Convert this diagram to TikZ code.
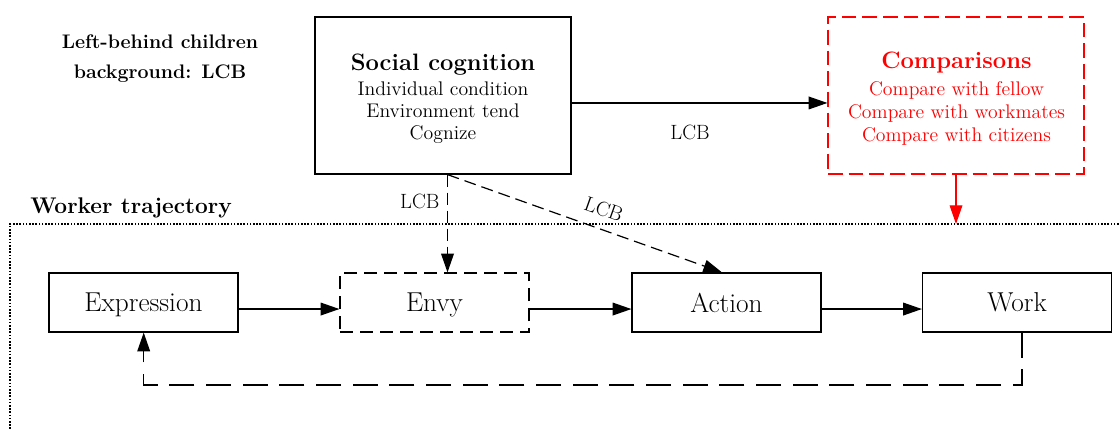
\documentclass[tikz,border=0pt]{standalone}
\usepackage{fontspec}
\usetikzlibrary{arrows.meta,calc}
\definecolor{cred}{RGB}{255,0,0}
\begin{document}
\begin{tikzpicture}[x=0.75pt,y=-0.75pt,
  box/.style={draw, line width=0.9pt, minimum width=141.75pt, minimum height=44.25pt,
    inner sep=0pt, text depth=0pt, font=\fontsize{20.5}{22}\selectfont},
  dbox/.style={box, dash pattern=on 10pt off 5pt},
  bigbox/.style={draw, line width=0.9pt, minimum width=192pt, minimum height=117.75pt, inner sep=0pt},
  redbox/.style={bigbox, draw=cred, dash pattern=on 11pt off 4.5pt},
  ttl/.style={anchor=base, inner sep=0pt, font=\fontsize{17.8}{20}\selectfont\bfseries},
  sub/.style={anchor=base, inner sep=0pt, font=\fontsize{14.8}{16}\selectfont},
  lcb/.style={inner sep=2pt, font=\fontsize{15.5}{16}\selectfont},
  hdr/.style={inner sep=0pt, font=\fontsize{14.7}{16}\selectfont\bfseries},
  tip/.style={-{Triangle[length=14pt,width=9.5pt]}},
  arr/.style={line width=0.9pt, tip},
  darr/.style={arr, dash pattern=on 9pt off 4.5pt},
  fb/.style={arr, dash pattern=on 18.75pt off 8.75pt},
  rarr/.style={line width=0.9pt, draw=cred, -{Triangle[length=14pt,width=9.5pt,fill=cred]}},
  frame/.style={line width=0.9pt, dash pattern=on 1.2pt off 1.2pt}
]
\useasboundingbox (0,0) rectangle (1119,429);

% header text
\node[hdr, anchor=base] (lcb1) at (160,48.3) {Left-behind children};
\node[hdr, anchor=base] (lcb2) at (160,78.3) {background: LCB};

% social cognition
\node[bigbox] (social) at (443,95.5) {};
\node[ttl] (socT) at (443,70) {Social cognition};
\node[sub] (soc1) at (443,95) {Individual condition};
\node[sub] (soc2) at (443,117.3) {Environment tend};
\node[sub] (soc3) at (443,139.5) {Cognize};

% comparisons
\node[redbox] (comp) at (956,95.5) {};
\node[ttl, text=cred] (compT) at (956.5,68.3) {Comparisons};
\node[sub, text=cred] (comp1) at (956.5,95) {Compare with fellow};
\node[sub, text=cred] (comp2) at (956.5,118.3) {Compare with workmates};
\node[sub, text=cred] (comp3) at (956.5,141.7) {Compare with citizens};

% worker trajectory frame
\node[anchor=base west, inner sep=0pt, font=\fontsize{17}{20}\selectfont\bfseries] (wt) at (30,213.3) {Worker trajectory};
\coordinate (fTR) at (1125,224);
\coordinate (fTL) at (10,224);
\coordinate (fBL) at (10,435);
\draw[frame] (fTR) -- (fTL) -- (fBL);

% row of boxes
\node[box]  (expr)   at (143.5,302.5) {Expression};
\node[dbox] (envy)   at (434.5,302.5) {Envy};
\node[box]  (action) at (726.5,302.5) {Action};
\node[box]  (work)   at (1017,302.5) {Work};

% connectors
\draw[arr] ([yshift=-5.6pt]social.east) -- node[lcb, below=14pt, pos=0.463] {LCB} ([yshift=-5.6pt]comp.west);
\coordinate (fhit) at (956,224);
\draw[rarr] (comp.south) -- (fhit);

\coordinate (vx) at (447.5,0);
\coordinate (dx) at (722,0);
\draw[darr] (social.south -| vx) -- node[lcb, left, inner sep=0pt, xshift=-5.6pt, pos=0.27] {LCB} (envy.north -| vx);
\draw[darr] (social.south -| vx) -- node[lcb, sloped, above=7pt, pos=0.545] {LCB} (action.north -| dx);

\draw[arr] ([yshift=-4.9pt]expr.east) -- ([yshift=-4.9pt]envy.west);
\draw[arr] ([yshift=-4.9pt]envy.east) -- ([yshift=-4.9pt]action.west);
\draw[arr] ([yshift=-4.9pt]action.east) -- ([yshift=-4.9pt]work.west);

\coordinate (fbR) at (1022,385);
\coordinate (fbL) at (143.7,385);
\draw[fb] (work.south -| fbR) -- (fbR) -- (fbL) -- (expr.south -| fbL);
\end{tikzpicture}
\end{document}
